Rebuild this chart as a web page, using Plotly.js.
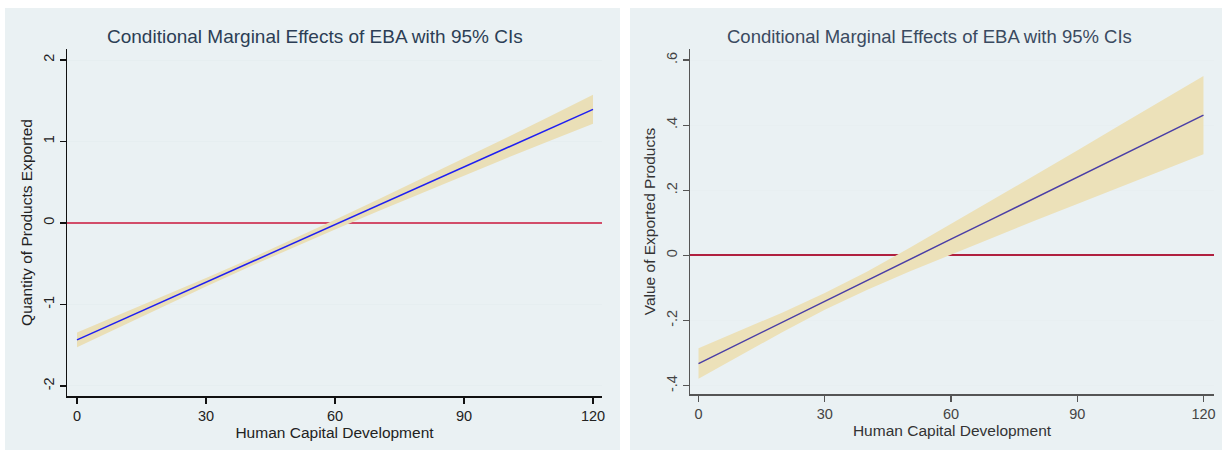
<!DOCTYPE html>
<html>
<head>
<meta charset="utf-8">
<script src="https://cdn.plot.ly/plotly-3.0.1.min.js"></script>
<style>html,body{margin:0;padding:0;background:#fff;}#chart{width:1222px;height:450px;}</style>
</head>
<body>
<div id="chart"></div>
<script>
// Human Capital Development values
const hcd = [0, 10, 20, 30, 40, 50, 60, 70, 80, 90, 100, 110, 120];

// Left panel: Quantity of Products Exported
const qtyEffect = [-1.435, -1.199, -0.963, -0.728, -0.492, -0.256, -0.020, 0.215, 0.451, 0.687, 0.923, 1.159, 1.395];
const qtyUpper  = [-1.345, -1.124, -0.901, -0.676, -0.445, -0.206, 0.040, 0.287, 0.539, 0.792, 1.048, 1.309, 1.573];
const qtyLower  = [-1.525, -1.274, -1.025, -0.780, -0.539, -0.306, -0.080, 0.143, 0.363, 0.582, 0.798, 1.009, 1.217];

// Right panel: Value of Exported Products
const valEffect = [-0.332, -0.268, -0.205, -0.141, -0.078, -0.014, 0.050, 0.113, 0.177, 0.240, 0.304, 0.368, 0.431];
const valUpper  = [-0.285, -0.230, -0.175, -0.115, -0.050, 0.022, 0.097, 0.171, 0.247, 0.322, 0.399, 0.476, 0.551];
const valLower  = [-0.379, -0.306, -0.235, -0.167, -0.106, -0.050, 0.003, 0.055, 0.107, 0.158, 0.209, 0.260, 0.311];

const xTicks = [0, 30, 60, 90, 120];
const qtyTicks = [-2, -1, 0, 1, 2];
const qtyTickText = ['-2', '-1', '0', '1', '2'];
const valTicks = [-0.4, -0.2, 0, 0.2, 0.4, 0.6];
const valTickText = ['-.4', '-.2', '0', '.2', '.4', '.6'];

const chartTitle = 'Conditional Marginal Effects of EBA with 95% CIs';
const xTitle = 'Human Capital Development';
const leftYTitle = 'Quantity of Products Exported';
const rightYTitle = 'Value of Exported Products';

const FONT = 'Liberation Sans, Arial, sans-serif';
const W = 1222, H = 450;
const px = v => v / W;
const py = v => 1 - v / H;

const traces = [
  {x: hcd, y: qtyLower, mode: 'lines', line: {width: 0}, hoverinfo: 'skip', showlegend: false, xaxis: 'x', yaxis: 'y'},
  {x: hcd, y: qtyUpper, mode: 'lines', line: {width: 0}, fill: 'tonexty', fillcolor: '#eadfb7', showlegend: false, xaxis: 'x', yaxis: 'y'},
  {x: hcd, y: qtyEffect, mode: 'lines', line: {color: '#1f1ff2', width: 1.5}, showlegend: false, xaxis: 'x', yaxis: 'y'},
  {x: hcd, y: valLower, mode: 'lines', line: {width: 0}, hoverinfo: 'skip', showlegend: false, xaxis: 'x2', yaxis: 'y2'},
  {x: hcd, y: valUpper, mode: 'lines', line: {width: 0}, fill: 'tonexty', fillcolor: '#ece1b9', showlegend: false, xaxis: 'x2', yaxis: 'y2'},
  {x: hcd, y: valEffect, mode: 'lines', line: {color: '#4a3ea6', width: 1.5}, showlegend: false, xaxis: 'x2', yaxis: 'y2'}
];

const axisCommon = {
  showline: true, linewidth: 1.5, ticks: 'outside', ticklen: 6, tickwidth: 1.2,
  zeroline: false, showgrid: false, fixedrange: true,
  tickfont: {family: FONT, size: 14.5, color: '#222'}
};

const layout = {
  width: W, height: H,
  margin: {l: 0, r: 0, t: 0, b: 0},
  paper_bgcolor: '#ffffff',
  plot_bgcolor: '#ffffff',
  showlegend: false,
  xaxis: Object.assign({}, axisCommon, {
    domain: [px(67), px(602)], range: [-2.33, 122.09], anchor: 'y',
    tickvals: xTicks, linecolor: '#111', tickcolor: '#111',
    title: {text: xTitle, font: {family: FONT, size: 15.5, color: '#222'}, standoff: 0}
  }),
  yaxis: Object.assign({}, axisCommon, {
    domain: [py(396), py(49)], range: [-2.123, 2.135], anchor: 'x',
    tickvals: qtyTicks, ticktext: qtyTickText, tickangle: -90,
    linecolor: '#111', tickcolor: '#111',
    showgrid: true, gridcolor: '#e6eef0', gridwidth: 1,
    zeroline: true, zerolinecolor: '#d24d69', zerolinewidth: 2,
    title: {text: leftYTitle, font: {family: FONT, size: 15.5, color: '#222'}, standoff: 4}
  }),
  xaxis2: Object.assign({}, axisCommon, {
    domain: [px(690), px(1214)], range: [-2.02, 122.5], anchor: 'y2',
    tickvals: xTicks, linecolor: '#555', tickcolor: '#555',
    tickfont: {family: FONT, size: 14.5, color: '#444'},
    title: {text: xTitle, font: {family: FONT, size: 15.5, color: '#333'}, standoff: 0}
  }),
  yaxis2: Object.assign({}, axisCommon, {
    domain: [py(394), py(49)], range: [-0.4255, 0.634], anchor: 'x2',
    tickvals: valTicks, ticktext: valTickText, tickangle: -90,
    linecolor: '#555', tickcolor: '#555',
    tickfont: {family: FONT, size: 14.5, color: '#444'},
    showgrid: true, gridcolor: '#e8eff1', gridwidth: 1,
    zeroline: true, zerolinecolor: '#b0203f', zerolinewidth: 2,
    title: {text: rightYTitle, font: {family: FONT, size: 15.5, color: '#333'}, standoff: 4}
  }),
  shapes: [
    {type: 'rect', xref: 'paper', yref: 'paper', x0: px(5), x1: px(620), y0: 0, y1: py(8), fillcolor: '#eaf1f3', line: {width: 0}, layer: 'below'},
    {type: 'rect', xref: 'paper', yref: 'paper', x0: px(630), x1: 1, y0: 0, y1: py(8), fillcolor: '#eaf1f3', line: {width: 0}, layer: 'below'}
  ],
  annotations: [
    {text: chartTitle, xref: 'paper', yref: 'paper', x: px(315), y: py(37), xanchor: 'center', yanchor: 'middle', showarrow: false, font: {family: FONT, size: 19, color: '#2c3e55'}},
    {text: chartTitle, xref: 'paper', yref: 'paper', x: px(929), y: py(37), xanchor: 'center', yanchor: 'middle', showarrow: false, font: {family: FONT, size: 18.5, color: '#3a4a60'}}
  ]
};

Plotly.newPlot('chart', traces, layout, {displayModeBar: false, staticPlot: true});
</script>
</body>
</html>
